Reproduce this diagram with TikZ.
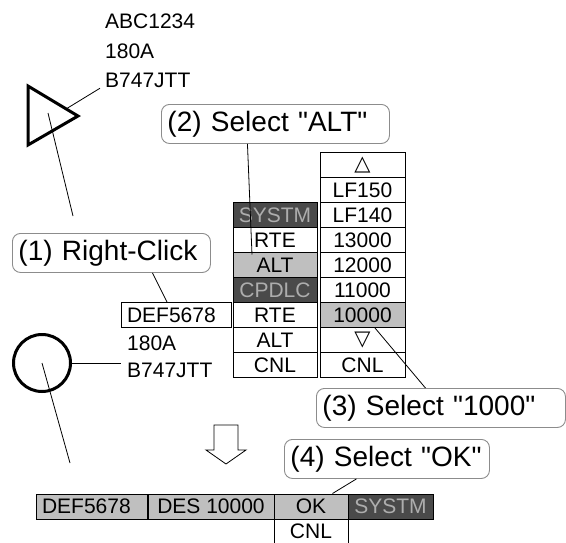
\documentclass[tikz,border=0pt]{standalone}
\usepackage{fontspec}
\setmainfont{Liberation Sans}
\newfontfamily\symfont{DejaVu Sans}
\usetikzlibrary{positioning, calc}

\definecolor{cellgray}{gray}{0.75}
\definecolor{celldark}{gray}{0.29}
\definecolor{darktext}{gray}{0.68}
\definecolor{framegray}{gray}{0.55}

\begin{document}
\begin{tikzpicture}[x=1pt, y=-1pt,
    cell/.style={draw, line width=1pt, minimum height=25pt, inner sep=0pt, font=\fontsize{21}{21}\selectfont},
    lcell/.style={cell, minimum width=84pt},
    rcell/.style={cell, minimum width=85pt},
    none/.style={},
    hit/.style={fill=cellgray},
    sys/.style={fill=celldark, text=darktext},
    plain/.style={inner sep=0pt, anchor=west, font=\fontsize{21}{21}\selectfont},
    callout/.style={draw=framegray, fill=white, rounded corners=8pt, line width=0.9pt, anchor=north west,
        minimum height=39pt, inner xsep=6pt, align=left, font=\fontsize{28}{28}\selectfont},
    lead/.style={line width=0.8pt}]
        \useasboundingbox (0,0) rectangle (566,542);
        % Aircraft (a)
        \draw[line width=3pt, line join=miter] (28,86) -- (78,116) -- (28,145) -- cycle;
        \coordinate (tri) at (48,113);
        \coordinate (trie) at (66,109);
        \coordinate (trid) at (73,216);
        \node[plain] (acid) at (105,21.5) {ABC1234};
        \node[plain] (aspd) at (105,51.7) {180A};
        \node[plain] (atyp) at (105,80.7) {B747JTT};
        \draw[lead] (trie) -- ([xshift=-5pt]atyp.south west);
        \draw[lead] (tri) -- (trid);

        % Aircraft (b)
        \node[circle, draw, line width=3pt, minimum size=57pt, inner sep=0pt] (circ) at (42,363) {};
        \coordinate (circd) at (70,463);
        \node[cell, minimum width=110pt, text width=98pt, align=left] (def) at (176,315) {DEF5678};
        \node[plain] (bspd) at (127,343.7) {180A};
        \node[plain] (btyp) at (127,370.8) {B747JTT};
        \draw[lead] (circ.east) -- ([xshift=-6pt]circ.east -| btyp.west);
        \draw[lead] (circ.center) -- (circd);

        % Menu
        \foreach \t/\s [count=\i from 2] in {SYSTM/sys, RTE/none, ALT/hit, CPDLC/sys, RTE/none, ALT/none, CNL/none}
            { \node[lcell, \s] (l\i) at (275, {165+25*\i}) {\t}; }
        % Altitude list
        \foreach \t/\s [count=\i from 0] in {{\symfont △}/none, LF150/none, LF140/none, 13000/none, 12000/none,
            11000/none, 10000/hit, {\symfont ▽}/none, CNL/none}
            { \node[rcell, \s] (r\i) at (362.5, {165+25*\i}) {\t}; }

        % Hollow arrow
        \draw[line width=0.8pt] (214,425) -- (238,425) -- (238,450) -- (246,450) -- (226,464)
            -- (206,450) -- (214,450) -- cycle;

        % Data block
        \node[cell, hit, minimum width=111pt, text width=99pt, align=left] (bdef) at (91.5,506.5) {DEF5678};
        \node[cell, hit, minimum width=126pt] (bdes) at (211,506.5) {DES 10000};
        \node[cell, hit, minimum width=74pt] (bok) at (311,506.5) {OK};
        \node[cell, sys, minimum width=85pt] (bsys) at (390.5,506.5) {SYSTM};
        \node[cell, minimum width=74pt] (bcnl) at (311,531.5) {CNL};

        % Steps
        \node[callout, text width=186pt] (lab1) at (12,233) {(1) Right-Click};
        \node[callout, text width=216pt] (lab2) at (161,104) {(2) Select \textquotedbl ALT\textquotedbl};
        \node[callout, text width=237pt] (lab3) at (316,388) {(3) Select \textquotedbl 1000\textquotedbl};
        \node[callout, text width=193pt] (lab4) at (284,439) {(4) Select \textquotedbl OK\textquotedbl};
        \draw[lead] ([xshift=41pt]lab1.south) -- ([xshift=-9pt]def.north);
        \draw[lead] ([xshift=-28pt]lab2.south) -- ([xshift=-23pt, yshift=-2.5pt]l4.north);
        \draw[lead] ([xshift=12.5pt]r6.south) -- ([xshift=-15.5pt]lab3.north);
        \draw[lead] ([xshift=-30.5pt]lab4.south) -- ([xshift=21.5pt]bok.north);
    \end{tikzpicture}
\end{document}
